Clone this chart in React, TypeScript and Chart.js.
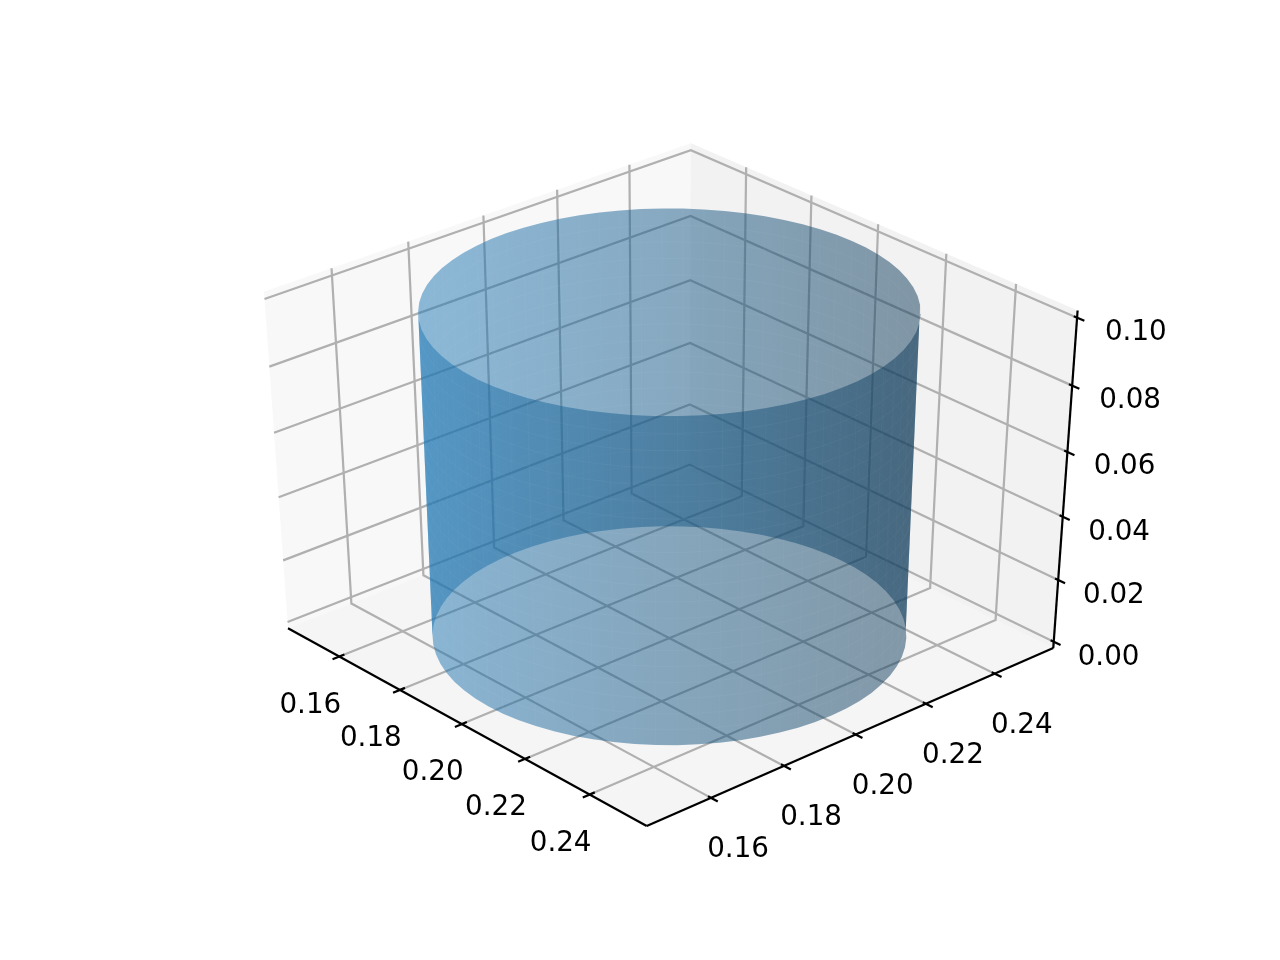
import React, { useEffect, useRef } from "react";
import { Chart, registerables } from "chart.js";

Chart.register(...registerables);

// Axis limits and ticks
const xLim = [0.145, 0.255];
const yLim = [0.145, 0.255];
const zLim = [0, 0.1];
const xTicks = [0.16, 0.18, 0.2, 0.22, 0.24];
const yTicks = [0.16, 0.18, 0.2, 0.22, 0.24];
const zTicks = [0, 0.02, 0.04, 0.06, 0.08, 0.1];
const xTickLabels = ["0.16", "0.18", "0.20", "0.22", "0.24"];
const yTickLabels = ["0.16", "0.18", "0.20", "0.22", "0.24"];
const zTickLabels = ["0.00", "0.02", "0.04", "0.06", "0.08", "0.10"];

// Cylinder wall: rim of radius 0.05 about (0.2, 0.2), and its height levels
const centre = [0.2, 0.2];
const rimX = [
  0.25, 0.24981, 0.24924, 0.2483, 0.24698, 0.24532, 0.2433, 0.24096, 0.2383, 0.23536, 0.23214, 0.22868,
  0.225, 0.22113, 0.2171, 0.21294, 0.20868, 0.20436, 0.2, 0.19564, 0.19132, 0.18706, 0.1829, 0.17887,
  0.175, 0.17132, 0.16786, 0.16464, 0.1617, 0.15904, 0.1567, 0.15468, 0.15302, 0.1517, 0.15076, 0.15019,
  0.15, 0.15019, 0.15076, 0.1517, 0.15302, 0.15468, 0.1567, 0.15904, 0.1617, 0.16464, 0.16786, 0.17132,
  0.175, 0.17887, 0.1829, 0.18706, 0.19132, 0.19564, 0.2, 0.20436, 0.20868, 0.21294, 0.2171, 0.22113,
  0.225, 0.22868, 0.23214, 0.23536, 0.2383, 0.24096, 0.2433, 0.24532, 0.24698, 0.2483, 0.24924, 0.24981,
];
const rimY = [
  0.2, 0.20436, 0.20868, 0.21294, 0.2171, 0.22113, 0.225, 0.22868, 0.23214, 0.23536, 0.2383, 0.24096,
  0.2433, 0.24532, 0.24698, 0.2483, 0.24924, 0.24981, 0.25, 0.24981, 0.24924, 0.2483, 0.24698, 0.24532,
  0.2433, 0.24096, 0.2383, 0.23536, 0.23214, 0.22868, 0.225, 0.22113, 0.2171, 0.21294, 0.20868, 0.20436,
  0.2, 0.19564, 0.19132, 0.18706, 0.1829, 0.17887, 0.175, 0.17132, 0.16786, 0.16464, 0.1617, 0.15904,
  0.1567, 0.15468, 0.15302, 0.1517, 0.15076, 0.15019, 0.15, 0.15019, 0.15076, 0.1517, 0.15302, 0.15468,
  0.1567, 0.15904, 0.1617, 0.16464, 0.16786, 0.17132, 0.175, 0.17887, 0.1829, 0.18706, 0.19132, 0.19564,
];
const wallLevels = [
  0, 0.005, 0.01, 0.015, 0.02, 0.025, 0.03, 0.035, 0.04, 0.045, 0.05, 0.055, 0.06, 0.065, 0.07, 0.075, 0.08,
  0.085, 0.09, 0.095, 0.1,
];
// Rim indices where the wall turns from the far half to the near half
const silhouette = [10, 46];

// Camera
const ELEV = 36;
const AZIM = -41.8;
const DIST = 10;
const AX = { left: 160, top: 115.2, width: 992, height: 739.2 };

const WIDTH = 1280;
const HEIGHT = 960;
const rad = Math.PI / 180;

const dot = (a: number[], b: number[]) => a[0] * b[0] + a[1] * b[1] + a[2] * b[2];
const w = [
  Math.cos(ELEV * rad) * Math.cos(AZIM * rad),
  Math.cos(ELEV * rad) * Math.sin(AZIM * rad),
  Math.sin(ELEV * rad),
];
const horiz = Math.hypot(w[0], w[1]);
const u = [-w[1] / horiz, w[0] / horiz, 0];
const v = [w[1] * u[2] - w[2] * u[1], w[2] * u[0] - w[0] * u[2], w[0] * u[1] - w[1] * u[0]];

function view(x: number, y: number, z: number) {
  const d = [
    (x - xLim[0]) / (xLim[1] - xLim[0]) - 0.5,
    (y - yLim[0]) / (yLim[1] - yLim[0]) - 0.5,
    (z - zLim[0]) / (zLim[1] - zLim[0]) - 0.5,
  ];
  return { xv: dot(u, d), yv: dot(v, d), depth: DIST - dot(w, d) };
}

function project(x: number, y: number, z: number) {
  const { xv, yv, depth } = view(x, y, z);
  const xp = xv / depth;
  const yp = yv / depth;
  return {
    x: AX.left + ((xp + 0.095) / 0.185) * AX.width,
    y: AX.top + AX.height - ((yp + 0.095) / 0.185) * AX.height,
  };
}

const xExt = (xLim[1] - xLim[0]) / 48;
const yExt = (yLim[1] - yLim[0]) / 48;
const zExt = (zLim[1] - zLim[0]) / 48;
const x0 = xLim[0] - xExt;
const x1 = xLim[1] + xExt;
const y0 = yLim[0] - yExt;
const y1 = yLim[1] + yExt;
const z0 = zLim[0] - zExt;
const z1 = zLim[1] + zExt;
const xTickDelta = (xLim[1] - xLim[0]) / 12;
const yTickDelta = (yLim[1] - yLim[0]) / 12;

const GRID = "#b0b0b0";
const LINE = 2.22;
const SEAM_ROW = "rgba(255,255,255,0.035)";
const SEAM_COL = "rgba(255,255,255,0.025)";

function pane(points: number[][], color: any) {
  return {
    data: points.map((p) => project(p[0], p[1], p[2])),
    showLine: true,
    fill: "shape",
    backgroundColor: color,
    borderWidth: 0,
    pointRadius: 0,
    tension: 0,
  };
}

function stroke(points: number[][], color: string, width = LINE) {
  return {
    data: points.map((p) => project(p[0], p[1], p[2])),
    showLine: true,
    fill: false,
    borderColor: color,
    borderWidth: width,
    pointRadius: 0,
    tension: 0,
  };
}

function shadeAt(i: number) {
  const nx = rimX[i] - centre[0];
  const ny = rimY[i] - centre[1];
  const s = -(nx + ny) / Math.hypot(nx, ny);
  return 0.5 + 0.5 * ((s + Math.SQRT2) / (2 * Math.SQRT2));
}

function halfWall(ctx: CanvasRenderingContext2D, indices: number[]) {
  const zMid = (wallLevels[0] + wallLevels[wallLevels.length - 1]) / 2;
  const screen = indices.map((i) => ({ i, x: project(rimX[i], rimY[i], zMid).x }));
  const xs = screen.map((p) => p.x);
  const left = Math.min(...xs);
  const right = Math.max(...xs);
  const gradient = ctx.createLinearGradient(left, 0, right, 0);
  screen.forEach((p) => {
    const k = shadeAt(p.i);
    gradient.addColorStop((p.x - left) / (right - left), `rgba(${31 * k},${119 * k},${180 * k},0.5)`);
  });
  const top = wallLevels[wallLevels.length - 1];
  const bottom = wallLevels[0];
  const outline = [
    ...indices.map((i) => [rimX[i], rimY[i], top]),
    ...[...indices].reverse().map((i) => [rimX[i], rimY[i], bottom]),
  ];
  return pane(outline, gradient);
}

function wall(ctx: CanvasRenderingContext2D) {
  const n = rimX.length;
  const [a, b] = silhouette;
  const far: number[] = [];
  const near: number[] = [];
  for (let i = a; i <= b; i++) far.push(i);
  for (let i = b; i <= a + n; i++) near.push(i % n);
  const seams: any[] = [];
  const addRow = (indices: number[]) =>
    wallLevels.forEach((z) => seams.push(stroke(indices.map((i) => [rimX[i], rimY[i], z]), SEAM_ROW, 1)));
  const addCols = (indices: number[]) =>
    indices.forEach((i) =>
      seams.push(
        stroke(
          [
            [rimX[i], rimY[i], wallLevels[0]],
            [rimX[i], rimY[i], wallLevels[wallLevels.length - 1]],
          ],
          SEAM_COL,
          1,
        ),
      ),
    );
  const out: any[] = [halfWall(ctx, far)];
  addRow(far);
  addCols(far.slice(4, -4));
  out.push(...seams.splice(0), halfWall(ctx, near));
  addRow(near);
  addCols(near.slice(4, -4));
  out.push(...seams);
  return out;
}

function buildDatasets(ctx: CanvasRenderingContext2D) {
  const back: any[] = [
    pane([[x0, y0, z0], [x0, y1, z0], [x0, y1, z1], [x0, y0, z1]], "rgba(242,242,242,0.5)"),
    pane([[x0, y1, z0], [x1, y1, z0], [x1, y1, z1], [x0, y1, z1]], "rgba(230,230,230,0.5)"),
    pane([[x0, y0, z0], [x1, y0, z0], [x1, y1, z0], [x0, y1, z0]], "rgba(236,236,236,0.5)"),
  ];
  xTicks.forEach((t) => back.push(stroke([[t, y0, z0], [t, y1, z0], [t, y1, z1]], GRID)));
  yTicks.forEach((t) => back.push(stroke([[x1, t, z0], [x0, t, z0], [x0, t, z1]], GRID)));
  zTicks.forEach((t) => back.push(stroke([[x0, y0, t], [x0, y1, t], [x1, y1, t]], GRID)));
  back.push(stroke([[x0, y0, z0], [x1, y0, z0]], "#000"));
  back.push(stroke([[x1, y0, z0], [x1, y1, z0]], "#000"));
  back.push(stroke([[x1, y1, z0], [x1, y1, z1]], "#000"));
  xTicks.forEach((t) =>
    back.push(stroke([[t, y0 - 0.2 * yTickDelta, z0], [t, y0 + 0.15 * yTickDelta, z0]], "#000")),
  );
  yTicks.forEach((t) =>
    back.push(stroke([[x1 + 0.22 * xTickDelta, t, z0], [x1 - 0.1 * xTickDelta, t, z0]], "#000")),
  );
  zTicks.forEach((t) =>
    back.push(stroke([[x1 + 0.22 * xTickDelta, y1, t], [x1 - 0.1 * xTickDelta, y1, t]], "#000")),
  );
  return [...back, ...wall(ctx)].reverse();
}

const tickLabelPlugin = {
  id: "tickLabels3d",
  afterDatasetsDraw(chart: any) {
    const { ctx } = chart;
    ctx.save();
    ctx.fillStyle = "#000";
    ctx.font = '27.78px "DejaVu Sans"';
    ctx.textAlign = "center";
    ctx.textBaseline = "middle";
    xTicks.forEach((t, i) => {
      const p = project(t, y0, z0);
      ctx.fillText(xTickLabels[i], p.x - 29, p.y + 49);
    });
    yTicks.forEach((t, i) => {
      const p = project(x1, t, z0);
      ctx.fillText(yTickLabels[i], p.x + 27, p.y + 52);
    });
    zTicks.forEach((t, i) => {
      const p = project(x1 + 0.0173, y1, t);
      ctx.fillText(zTickLabels[i], p.x - 4, p.y - 12.5);
    });
    ctx.restore();
  },
};

export default function App() {
  const ref = useRef<HTMLCanvasElement | null>(null);
  useEffect(() => {
    document.body.style.margin = "0";
    const canvas = ref.current as HTMLCanvasElement;
    const chart = new Chart(canvas, {
      type: "scatter",
      data: { datasets: buildDatasets(canvas.getContext("2d") as CanvasRenderingContext2D) },
      options: {
        animation: false,
        responsive: false,
        events: [],
        layout: { padding: 0 },
        plugins: { legend: { display: false }, tooltip: { enabled: false }, title: { display: false } },
        scales: {
          x: { type: "linear", min: 0, max: WIDTH, display: false },
          y: { type: "linear", min: 0, max: HEIGHT, reverse: true, display: false },
        },
      },
      plugins: [tickLabelPlugin],
    } as any);
    return () => chart.destroy();
  }, []);
  return (
    <canvas ref={ref} width={WIDTH} height={HEIGHT} style={{ display: "block", width: WIDTH, height: HEIGHT }} />
  );
}
